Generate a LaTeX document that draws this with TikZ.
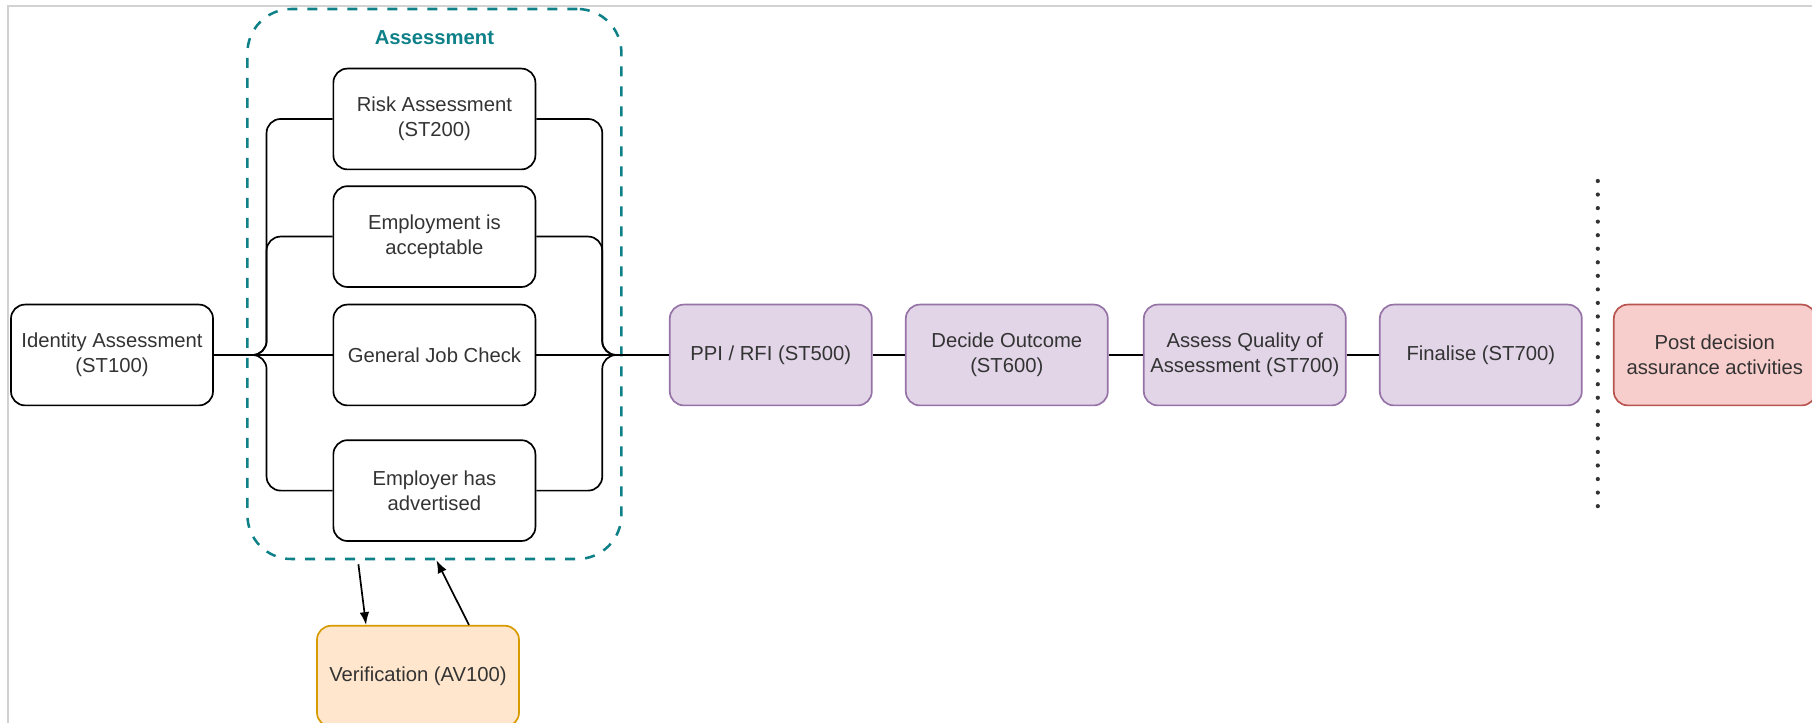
\documentclass[tikz,border=0pt]{standalone}
\usepackage{fontspec}
\setmainfont{Liberation Sans}
\usepackage{color}
\usepackage{tikz}
\usetikzlibrary{shapes,arrows,arrows.meta,calc}
\definecolor{txt}{HTML}{333333}
\definecolor{tealline}{HTML}{0E8088}
\definecolor{stagefill}{HTML}{E1D5E7}
\definecolor{stagedraw}{HTML}{9673A6}
\definecolor{verifyfill}{HTML}{FFE6CC}
\definecolor{verifydraw}{HTML}{D79B00}
\definecolor{postfill}{HTML}{F8CECC}
\definecolor{postdraw}{HTML}{B85450}
\tikzstyle{line} = [draw, -{Latex[length=0.32cm,width=0.24cm]}, line width=1.2pt]
\tikzstyle{conn} = [draw, line width=1.2pt, rounded corners=0.35cm]
\tikzstyle{block} = [draw, rectangle, text centered, align=center, rounded corners=0.35cm, minimum width=5.05cm, minimum height=2.52cm, line width=1.2pt, text=txt, font=\fontsize{14.4}{17.8}\selectfont]
\tikzstyle{stage} = [block, draw=stagedraw, fill=stagefill]
\tikzstyle{verify} = [block, draw=verifydraw, fill=verifyfill]
\tikzstyle{postbox} = [block, draw=postdraw, fill=postfill]
\tikzstyle{group} = [draw=tealline, rectangle, dash pattern=on 0.25cm off 0.25cm, line width=1.8pt, rounded corners=1.1cm, minimum width=9.35cm, minimum height=13.75cm, inner sep=0pt]
\tikzstyle{grouplabel} = [text=tealline, font=\bfseries\fontsize{14.4}{17}\selectfont]
\tikzstyle{divider} = [draw=txt, line width=3pt, line cap=round, dash pattern=on 0pt off 0.3387cm]

\begin{document}
\begin{tikzpicture}[node distance=5.9cm, auto]
        \useasboundingbox (0,0) rectangle (45.3,18.075);
        \draw[gray!35, line width=0.8pt] (0.2,0) -- (0.2,17.925) -- (45.3,17.925);
        \node[block] (ident) at (2.8,9.2) {Identity Assessment\\(ST100)};
        \node[block, right of=ident, node distance=8.06cm] (general) {General Job Check};
        \node[block, above of=general, node distance=2.96cm] (employ) {Employment is\\acceptable};
        \node[block, above of=general] (risk) {Risk Assessment\\(ST200)};
        \node[block, below of=general, node distance=3.39cm] (advert) {Employer has\\advertised};
        \node[group, above of=general, node distance=1.775cm] (assess) {};
        \node[grouplabel] (assesslbl) at ($(assess.north)+(0,-0.75)$) {Assessment};
        \node[verify] (verif) at ($(advert)+(-0.41,-4.64)$) {Verification (AV100)};
        \node[stage, right of=general, node distance=8.41cm] (ppi) {PPI / RFI (ST500)};
        \node[stage, right of=ppi] (decide) {Decide Outcome\\(ST600)};
        \node[stage, right of=decide, node distance=5.95cm] (quality) {Assess Quality of\\Assessment (ST700)};
        \node[stage, right of=quality] (final) {Finalise (ST700)};
        \node[postbox, right of=final, node distance=5.85cm] (postdec) {Post decision\\assurance activities};
        \coordinate (lbus) at ($(general.west)+(-1.65,0)$);
        \coordinate (rbus) at ($(general.east)+(1.65,0)$);
        \coordinate (septop) at ($(final)!0.5!(postdec)+(0,4.35)$);
        \coordinate (sepbot) at ($(final)!0.5!(postdec)+(0,-3.78)$);
        \path[conn] (ident.east) -- (general.west);
        \path[conn] (ident.east) -- (lbus) |- (risk.west);
        \path[conn] (ident.east) -- (lbus) |- (employ.west);
        \path[conn] (ident.east) -- (lbus) |- (advert.west);
        \path[conn] (general.east) -- (ppi.west);
        \path[conn] (risk.east) -| (rbus) -- (ppi.west);
        \path[conn] (employ.east) -| (rbus) -- (ppi.west);
        \path[conn] (advert.east) -| (rbus) -- (ppi.west);
        \path[conn] (ppi) -- (decide);
        \path[conn] (decide) -- (quality);
        \path[conn] (quality) -- (final);
        \path[line] ($(assess.south)+(-1.9,-0.1)$) -- ($(verif.north)+(-1.3,0)$);
        \path[line] ($(verif.north)+(1.275,0)$) -- ($(assess.south)+(0.05,0)$);
        \path[divider] (septop) -- (sepbot);
    \end{tikzpicture}
\end{document}
